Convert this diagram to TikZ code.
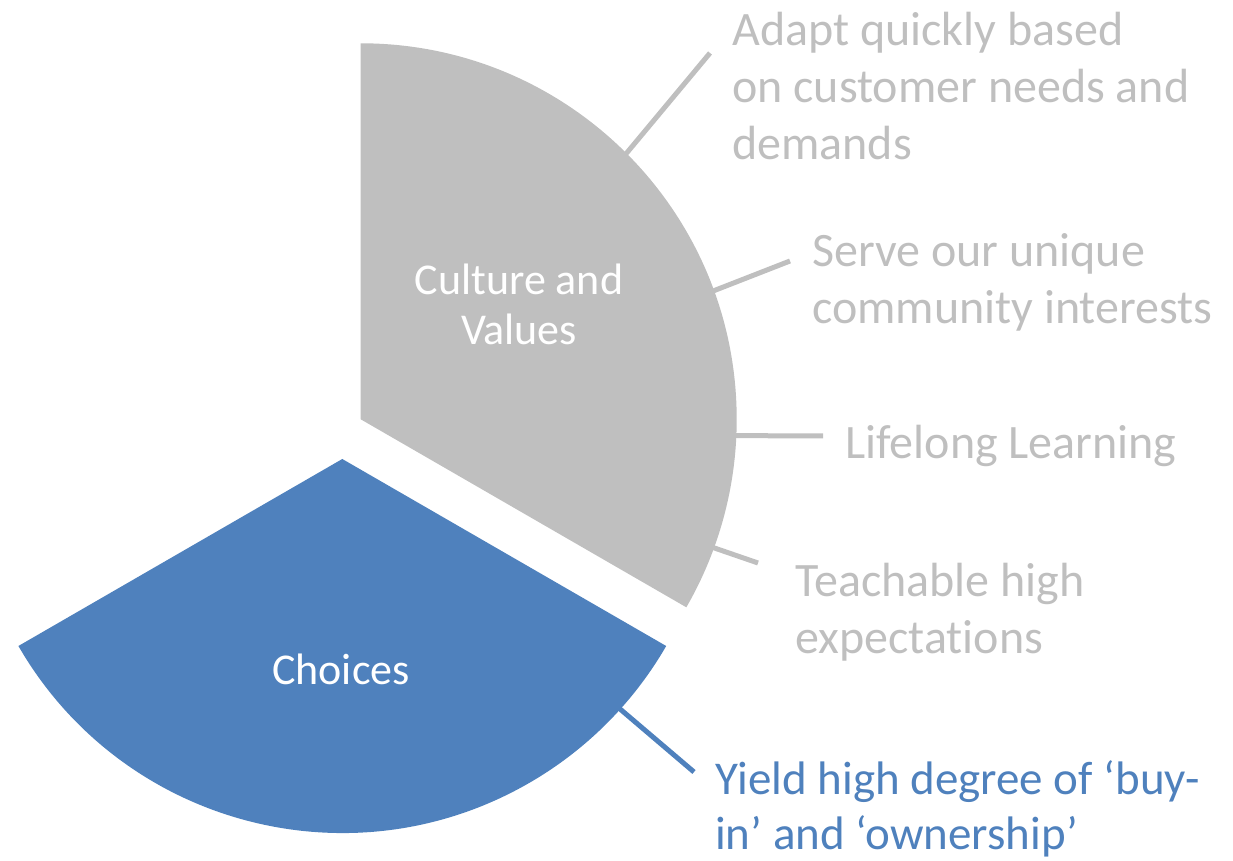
\documentclass[tikz,border=0pt]{standalone}
\usepackage{fontspec}
\setmainfont{Carlito}[Ligatures={NoCommon,NoRare}]
\usetikzlibrary{calc}
\definecolor{piegray}{RGB}{191,191,191}
\definecolor{pieblue}{RGB}{79,129,189}

\begin{document}
\begin{tikzpicture}[x=1pt,y=1pt,
  lead/.style={line width=5pt},
  item/.style={anchor=base west,inner sep=0pt,align=left,font=\fontsize{48}{57}\selectfont},
  inside/.style={inner sep=0pt,align=center,text=white,font=\fontsize{44}{50}\selectfont}]
\useasboundingbox (0,0) rectangle (1233,861);
\coordinate (G) at (360.7,441.7);
\coordinate (B) at (342.3,402);
\fill[piegray] (G) -- ++(90:376) arc[start angle=90,end angle=-30,radius=376] -- cycle;
\fill[pieblue] (B) -- ++(210:374) arc[start angle=210,end angle=330,radius=374] -- cycle;
\node[inside,anchor=base] (culture) at (519,516) {Culture and\\Values};
\node[inside,anchor=base] (choices) at (341,176) {Choices};
\node[item,text=piegray] (adapt) at (732,701)
  {Adapt quickly based\\on customer needs and\\demands};
\node[item,text=piegray] (serve) at (812,537)
  {Serve our unique\\community interests};
\node[item,text=piegray] (lifelong) at (845,402)
  {Lifelong Learning};
\node[item,text=piegray] (teach) at (795,207)
  {Teachable high\\expectations};
\node[item,text=pieblue,font=\fontsize{47}{55}\selectfont] (yield) at (715,11)
  {Yield high degree of ‘buy-\\in’ and ‘ownership’};
\coordinate (a1) at ($(G)+(45:374)$);
\coordinate (a2) at ($(G)+(20:374)$);
\coordinate (a3) at ($(G)+(-2.5:374)$);
\coordinate (a4) at ($(G)+(-20:374)$);
\coordinate (b1) at ($(B)+(-42:372)$);
\coordinate (a1e) at (710,808);
\coordinate (a2e) at (790,600);
\coordinate (a3e) at (823,425);
\coordinate (a4e) at (758,298);
\coordinate (b1e) at (694,89);
\draw[lead,piegray] (a1)--(a1e);
\draw[lead,piegray] (a2)--(a2e);
\draw[lead,piegray] (a3)--(a3e);
\draw[lead,piegray] (a4)--(a4e);
\draw[lead,pieblue] (b1)--(b1e);
\end{tikzpicture}
\end{document}
